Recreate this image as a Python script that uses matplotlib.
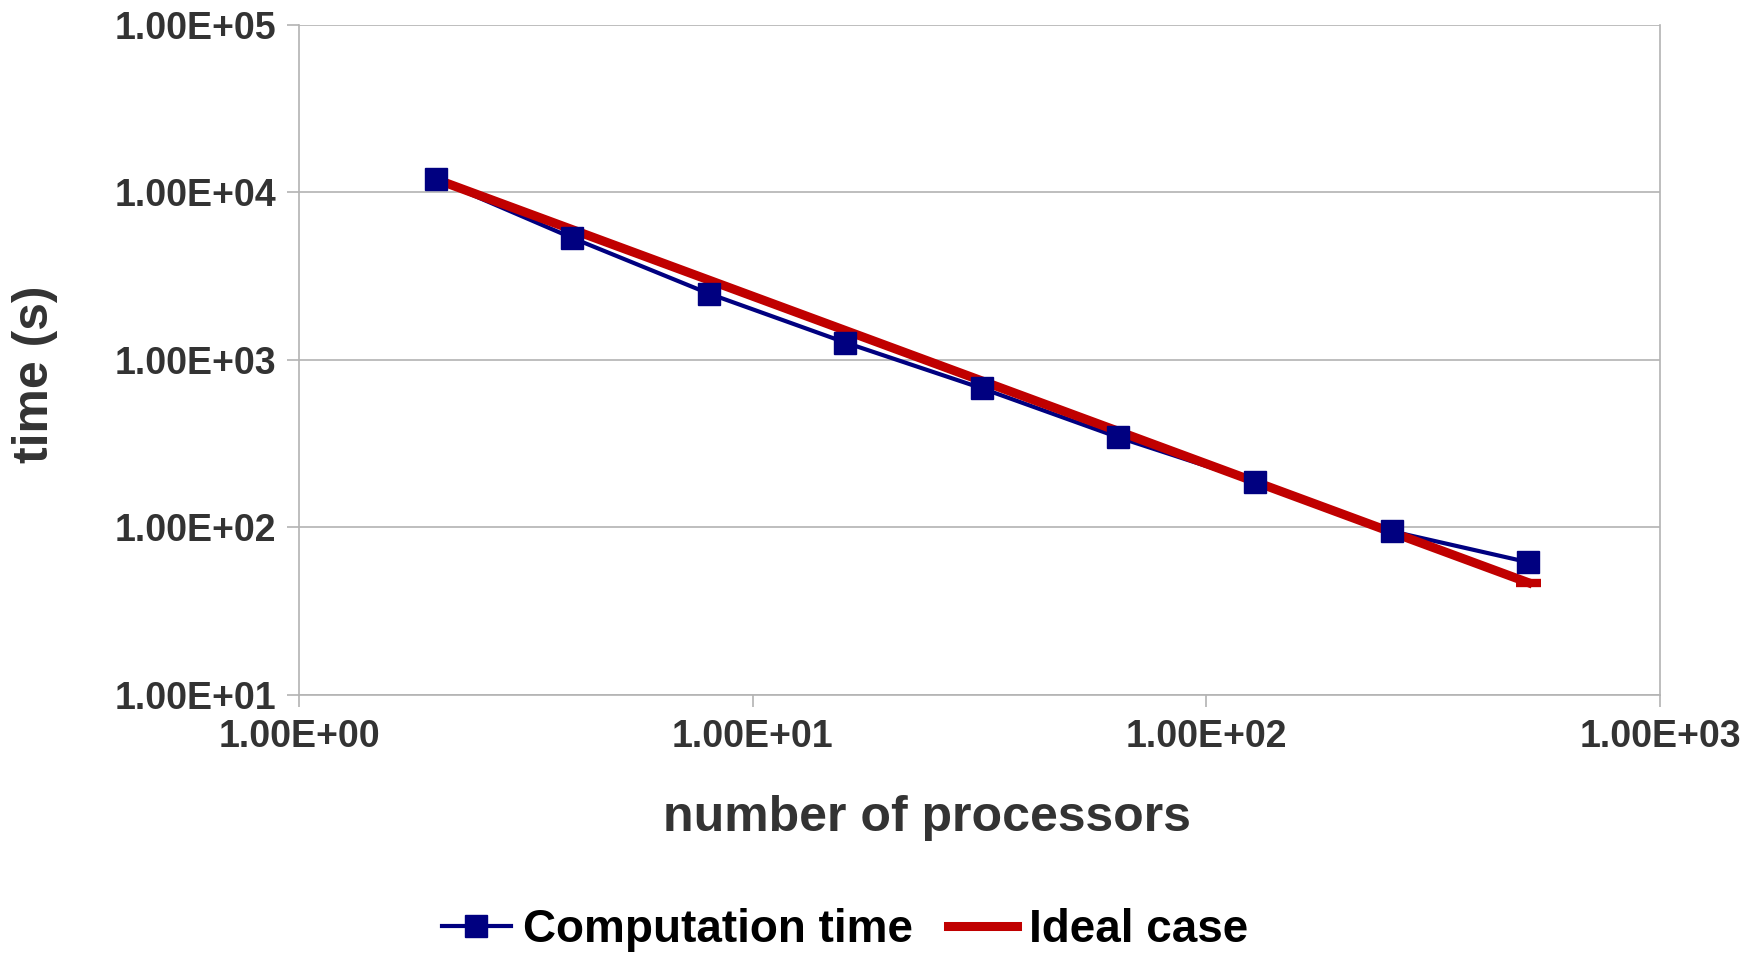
import matplotlib
matplotlib.use("Agg")
import matplotlib.pyplot as plt
from matplotlib.ticker import FixedLocator, NullLocator
from matplotlib.lines import Line2D

plt.rcParams['font.family'] = ['Liberation Sans', 'DejaVu Sans']
plt.rcParams['font.weight'] = 'bold'

# number of processors
procs = [2, 4, 8, 16, 32, 64, 128, 256, 512]
# measured computation time (s)
comp_time = [12000, 5350, 2490, 1270, 677, 345, 187, 95, 62]
# ideal scaling (s)
ideal_time = [12000, 6000, 3000, 1500, 750, 375, 187.5, 93.75, 46.9]

x_ticks = [1, 10, 100, 1000]
x_labels = ["1.00E+00", "1.00E+01", "1.00E+02", "1.00E+03"]
y_ticks = [10, 100, 1000, 10000, 100000]
y_labels = ["1.00E+01", "1.00E+02", "1.00E+03", "1.00E+04", "1.00E+05"]

navy = "#000080"
red = "#c00000"
grey = "#b3b3b3"
text_col = "#333333"

fig = plt.figure(figsize=(17.5, 9.56), dpi=100)
ax = fig.add_axes([0.1709, 0.273, 0.7777, 0.701])

# blue line under the red one, markers on top
ax.plot(procs, comp_time, color=navy, lw=3.0, zorder=2)
ax.plot(procs, ideal_time, color=red, lw=6.5, zorder=3,
        marker='_', markevery=[-1], markersize=18, mew=6)
ax.plot(procs, comp_time, ls='none', marker='s', markersize=16,
        color=navy, zorder=4)

ax.set_xscale('log')
ax.set_yscale('log')
ax.set_xlim(1, 1000)
ax.set_ylim(10, 100000)

ax.xaxis.set_major_locator(FixedLocator(x_ticks))
ax.xaxis.set_minor_locator(NullLocator())
ax.yaxis.set_major_locator(FixedLocator(y_ticks))
ax.yaxis.set_minor_locator(NullLocator())
ax.set_xticklabels(x_labels)
ax.set_yticklabels(y_labels)

ax.tick_params(axis='both', which='major', direction='out', length=8.6,
               width=1.2, color=grey, labelsize=27, labelcolor=text_col)
ax.tick_params(axis='y', pad=8)
ax.tick_params(axis='x', pad=9)
for lbl in ax.get_xticklabels() + ax.get_yticklabels():
    lbl.set_fontweight('bold')

ax.grid(axis='y', color=grey, lw=1.2)
ax.set_axisbelow(True)
for side in ['left', 'right', 'bottom', 'top']:
    ax.spines[side].set_color(grey)
    ax.spines[side].set_linewidth(1.2)
ax.spines['top'].set_visible(False)

ax.set_xlabel("number of processors", fontsize=36, fontweight='bold',
              color=text_col)
ax.set_ylabel("time (s)", fontsize=36, fontweight='bold', color=text_col)
ax.xaxis.set_label_coords(0.461, -0.149)
ax.yaxis.set_label_coords(-0.177, 0.479)

handles = [
    Line2D([], [], color=navy, lw=3.0, marker='s', markersize=16),
    Line2D([], [], color=red, lw=6.5),
]
fig.legend(handles, ["Computation time", "Ideal case"], loc='center',
           bbox_to_anchor=(0.483, 0.027), ncol=2, frameon=False,
           prop={'size': 33, 'weight': 'bold'}, handlelength=1.5,
           handletextpad=0.27, columnspacing=0.76)

fig.savefig("out.png", dpi=100)
